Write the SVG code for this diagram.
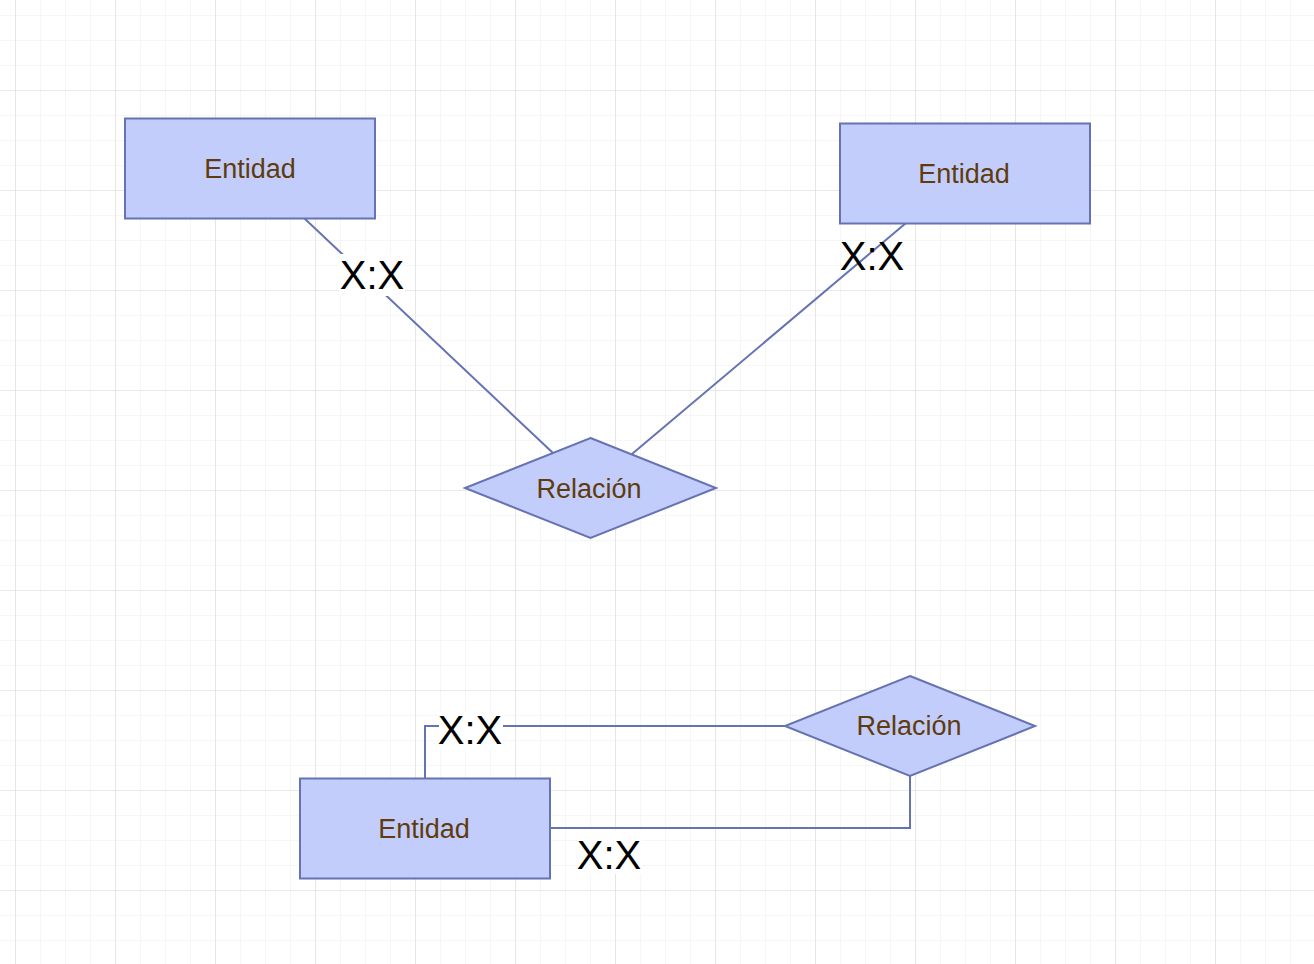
<svg xmlns="http://www.w3.org/2000/svg" width="1314" height="964" viewBox="0 0 1314 964">
<defs>
<pattern id="minor" x="15" y="15" width="25" height="25" patternUnits="userSpaceOnUse">
<path d="M0 0H25M0 0V25" fill="none" stroke="#f3f3f3" stroke-width="1.5"/>
</pattern>
<pattern id="major" x="15" y="-10" width="100" height="100" patternUnits="userSpaceOnUse">
<path d="M0 0H100M0 0V100" fill="none" stroke="#dcdcdc" stroke-width="1.2"/>
</pattern>
</defs>
<style>
.ent{fill:#c3cdfb;stroke:#6673b3;stroke-width:2}
.lbl{font-family:"Liberation Sans",Arial,sans-serif;font-size:27px;fill:#5f3b0d;text-anchor:middle;dominant-baseline:central}
.card{font-family:"Liberation Sans",Arial,sans-serif;font-size:40px;fill:#000;text-anchor:middle;dominant-baseline:central}
.con{fill:none;stroke:#6673b3;stroke-width:2}
.bg{fill:#fff}
</style>
<rect width="1314" height="964" fill="#fff"/>
<rect width="1314" height="964" fill="url(#minor)"/>
<rect width="1314" height="964" fill="url(#major)"/>
<g id="connectors">
<path class="con" d="M304 218L553 453"/>
<rect class="bg" x="339" y="254" width="66" height="42"/>
<text class="card" x="372" y="275">X:X</text>
<path class="con" d="M906 223L632 454"/>
<text class="card" x="872" y="256">X:X</text>
<path class="con" d="M425 779V726H785"/>
<rect class="bg" x="439" y="712" width="64" height="36"/>
<text class="card" x="470" y="730">X:X</text>
<path class="con" d="M550 828H910V776"/>
<rect class="bg" x="578" y="830" width="64" height="44"/>
<text class="card" x="609" y="855">X:X</text>
</g>
<g id="entidad1">
<rect class="ent" x="125" y="118.5" width="250" height="100"/>
<text class="lbl" x="250" y="169">Entidad</text>
</g>
<g id="entidad2">
<rect class="ent" x="840" y="123.5" width="250" height="100"/>
<text class="lbl" x="964" y="174">Entidad</text>
</g>
<g id="relacion1">
<path class="ent" d="M590.5 438L716 488L590.5 538L465 488Z"/>
<text class="lbl" x="589" y="489">Relación</text>
</g>
<g id="relacion2">
<path class="ent" d="M910 676L1035 726L910 776L785 726Z"/>
<text class="lbl" x="909" y="726">Relación</text>
</g>
<g id="entidad3">
<rect class="ent" x="300" y="778.5" width="250" height="100"/>
<text class="lbl" x="424" y="829">Entidad</text>
</g>
</svg>
